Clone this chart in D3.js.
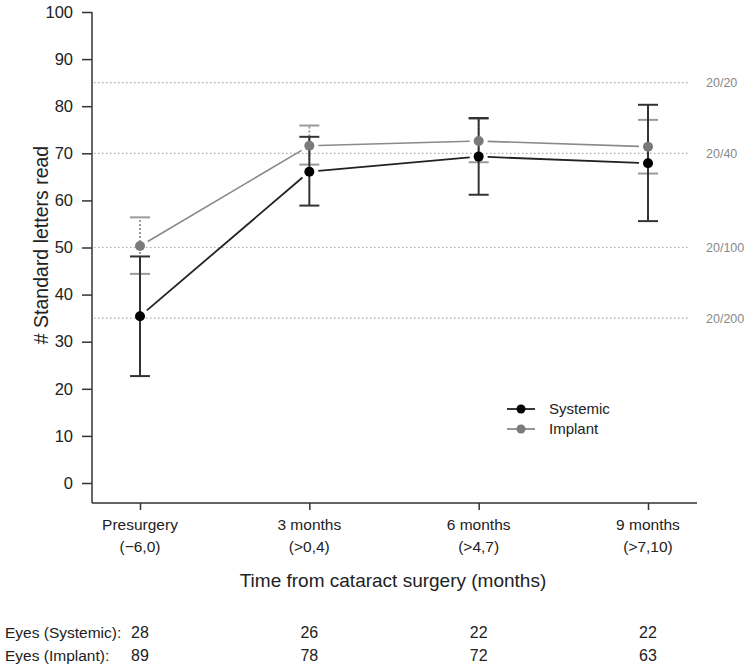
<!DOCTYPE html>
<html><head><meta charset="utf-8">
<script src="https://cdn.jsdelivr.net/npm/d3@7"></script>
<style>
html,body{margin:0;padding:0;background:#fff;}
svg text{font-family:"Liberation Sans",Arial,Helvetica,sans-serif;}
</style></head>
<body><svg id="c" width="750" height="668"></svg>
<script>
const categories = ["Presurgery", "3 months", "6 months", "9 months"];
const categorySub = ["(\u22126,0)", "(>0,4)", "(>4,7)", "(>7,10)"];
const systemicMean = [35.4, 66.1, 69.3, 67.9];
const systemicLow  = [22.7, 58.9, 61.2, 55.6];
const systemicHigh = [48.1, 73.5, 77.5, 80.3];
const implantMean  = [50.3, 71.6, 72.6, 71.4];
const implantLow   = [44.4, 67.6, 68.1, 65.7];
const implantHigh  = [56.4, 75.9, 77.3, 77.1];
const eyesSystemic = [28, 26, 22, 22];
const eyesImplant  = [89, 78, 72, 63];
const yTicks = [0,10,20,30,40,50,60,70,80,90,100];
const refValues = [85, 70, 50, 35];
const refLabels = ["20/20", "20/40", "20/100", "20/200"];

const svg = d3.select("#c");
const x = d3.scalePoint().domain(categories).range([140, 648]);
const y = d3.scaleLinear().domain([0, 100]).range([483, 12]);
const axisX0 = 92, axisY0 = 503, axisX1 = 697;

// reference lines
refValues.forEach((v, i) => {
  svg.append("line").attr("x1", axisX0 + 2).attr("x2", 690)
    .attr("y1", y(v)).attr("y2", y(v))
    .attr("stroke", "#aaa").attr("stroke-width", 1.2).attr("stroke-dasharray", "1.5,2.5");
  svg.append("text").attr("x", 706).attr("y", y(v)).attr("dy", "0.35em")
    .attr("font-size", 12.5).attr("fill", "#888").text(refLabels[i]);
});

// Y axis
const yAxis = d3.axisLeft(y).tickValues(yTicks).tickSize(10).tickPadding(9);
const gy = svg.append("g").attr("transform", `translate(${axisX0},0)`).call(yAxis);
gy.select(".domain").remove();
gy.selectAll(".tick line").attr("stroke", "#333").attr("stroke-width", 1.5);
gy.selectAll(".tick text").attr("font-size", 16.5).attr("fill", "#222")
  .style("font-family", "Liberation Sans, Arial, sans-serif");
svg.append("line").attr("x1", axisX0).attr("x2", axisX0).attr("y1", y(100)).attr("y2", axisY0)
  .attr("stroke", "#333").attr("stroke-width", 1.5);

// X axis
const xAxis = d3.axisBottom(x).tickSize(7).tickFormat("");
const gx = svg.append("g").attr("transform", `translate(0,${axisY0})`).call(xAxis);
gx.select(".domain").remove();
gx.selectAll(".tick line").attr("stroke", "#333").attr("stroke-width", 1.5);
svg.append("line").attr("x1", axisX0).attr("x2", axisX1).attr("y1", axisY0).attr("y2", axisY0)
  .attr("stroke", "#333").attr("stroke-width", 1.5);

categories.forEach((c, i) => {
  svg.append("text").attr("x", x(c)).attr("y", 530).attr("text-anchor", "middle")
    .attr("font-size", 15.5).attr("fill", "#222").text(c);
  svg.append("text").attr("x", x(c)).attr("y", 552).attr("text-anchor", "middle")
    .attr("font-size", 15.5).attr("fill", "#222").text(categorySub[i]);
  svg.append("text").attr("x", x(c)).attr("y", 638).attr("text-anchor", "middle")
    .attr("font-size", 16).attr("fill", "#222").text(eyesSystemic[i]);
  svg.append("text").attr("x", x(c)).attr("y", 661).attr("text-anchor", "middle")
    .attr("font-size", 16).attr("fill", "#222").text(eyesImplant[i]);
});
svg.append("text").attr("x", 5).attr("y", 638).attr("font-size", 15.5).attr("fill", "#222").text("Eyes (Systemic):");
svg.append("text").attr("x", 5).attr("y", 661).attr("font-size", 15.5).attr("fill", "#222").text("Eyes (Implant):");

svg.append("text").attr("x", 393).attr("y", 587).attr("text-anchor", "middle")
  .attr("font-size", 19).attr("fill", "#222").text("Time from cataract surgery (months)");
svg.append("text").attr("transform", "translate(48,245) rotate(-90)").attr("text-anchor", "middle")
  .attr("font-size", 19.5).attr("fill", "#222").text("# Standard letters read");

// series
function drawSeries(mean, low, high, color, barColor, dotted, lineW) {
  const g = svg.append("g");
  const gap = 9;
  for (let i = 0; i < categories.length - 1; i++) {
    const x1 = x(categories[i]), y1 = y(mean[i]);
    const x2 = x(categories[i + 1]), y2 = y(mean[i + 1]);
    const dx = x2 - x1, dy = y2 - y1, L = Math.hypot(dx, dy);
    g.append("line")
      .attr("x1", x1 + dx / L * gap).attr("y1", y1 + dy / L * gap)
      .attr("x2", x2 - dx / L * gap).attr("y2", y2 - dy / L * gap)
      .attr("stroke", color).attr("stroke-width", lineW);
  }
  categories.forEach((c, i) => {
    const cx = x(c);
    g.append("line").attr("x1", cx).attr("x2", cx).attr("y1", y(low[i])).attr("y2", y(high[i]))
      .attr("stroke", barColor).attr("stroke-width", 2)
      .attr("stroke-dasharray", dotted ? "2,2" : null);
    [low[i], high[i]].forEach(v => {
      g.append("line").attr("x1", cx - 10).attr("x2", cx + 10).attr("y1", y(v)).attr("y2", y(v))
        .attr("stroke", barColor).attr("stroke-width", 2);
    });
  });
  return g;
}
const gImp = drawSeries(implantMean, implantLow, implantHigh, "#8a8a8a", "#9a9a9a", true, 1.6);
const gSys = drawSeries(systemicMean, systemicLow, systemicHigh, "#222", "#333", false, 1.8);
categories.forEach((c, i) => {
  svg.append("circle").attr("cx", x(c)).attr("cy", y(implantMean[i])).attr("r", 5).attr("fill", "#7a7a7a");
});
categories.forEach((c, i) => {
  svg.append("circle").attr("cx", x(c)).attr("cy", y(systemicMean[i])).attr("r", 5).attr("fill", "#000");
});

// legend
const leg = [{name: "Systemic", color: "#222", dot: "#000", yy: 409}, {name: "Implant", color: "#8a8a8a", dot: "#7a7a7a", yy: 429}];
leg.forEach(d => {
  svg.append("line").attr("x1", 507).attr("x2", 535).attr("y1", d.yy).attr("y2", d.yy)
    .attr("stroke", d.color).attr("stroke-width", 1.8);
  svg.append("circle").attr("cx", 521).attr("cy", d.yy).attr("r", 4.5).attr("fill", d.dot);
  svg.append("text").attr("x", 549).attr("y", d.yy).attr("dy", "0.35em")
    .attr("font-size", 15).attr("fill", "#222").text(d.name);
});
</script></body></html>
